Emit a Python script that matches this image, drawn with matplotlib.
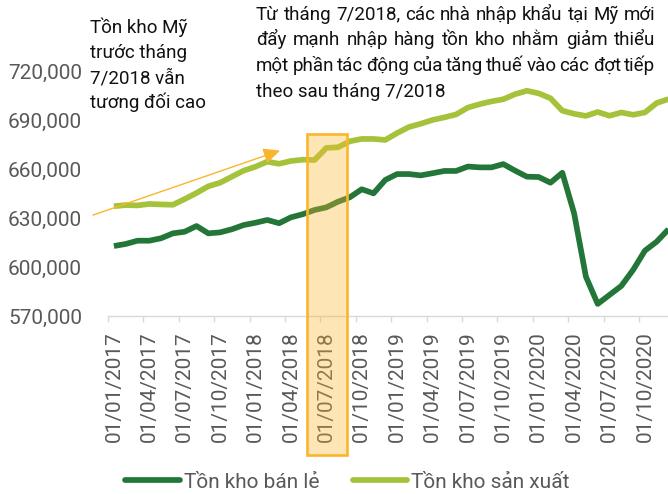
import matplotlib
matplotlib.use("Agg")
import matplotlib.pyplot as plt
from matplotlib.patches import Rectangle, FancyArrowPatch
from matplotlib.lines import Line2D
from matplotlib.ticker import FuncFormatter

# ---------------- data ----------------
tick_labels = ["01/01/2017", "01/04/2017", "01/07/2017", "01/10/2017",
               "01/01/2018", "01/04/2018", "01/07/2018", "01/10/2018",
               "01/01/2019", "01/04/2019", "01/07/2019", "01/10/2019",
               "01/01/2020", "01/04/2020", "01/07/2020", "01/10/2020"]

retail = [612850, 614100, 616100, 616100, 617600, 620600, 621600, 625100,
          620600, 621200, 623100, 625700, 627100, 628800, 626800, 630400,
          632300, 634900, 636500, 640000, 642700, 647600, 645100, 653300,
          656900, 656900, 656100, 657400, 658800, 658800, 661500, 661000,
          661000, 663000, 659000, 655300, 655100, 651600, 657700, 632900,
          594100, 577400, 582900, 588400, 598200, 610000, 615500, 623100]

manufacturing = [637200, 637900, 637700, 638600, 638300, 638100, 641600, 645300,
                 649400, 651600, 655300, 659000, 661400, 664500, 663200, 664900,
                 665700, 665500, 672900, 673300, 677000, 678400, 678400, 677800,
                 682000, 685700, 687700, 690000, 691600, 693400, 697600, 699700,
                 701400, 702700, 705800, 707900, 706300, 703300, 695700, 693800,
                 692500, 694900, 692600, 694600, 693200, 694600, 700400, 702800]

y_ticks = [570000, 600000, 630000, 660000, 690000, 720000]

series_names = ["Tồn kho bán lẻ", "Tồn kho sản xuất"]

left_note = ["Tồn kho Mỹ", "trước tháng", "7/2018 vẫn", "tương đối cao"]
right_note = ["Từ tháng 7/2018, các nhà nhập khẩu tại Mỹ mới",
              "đẩy mạnh nhập hàng tồn kho nhằm giảm thiểu",
              "một phần tác động của tăng thuế vào các đợt tiếp",
              "theo sau tháng 7/2018"]

# ---------------- style ----------------
FONT = ["Roboto", "DejaVu Sans"]
plt.rcParams["font.family"] = FONT
DARK = "#237638"
LIGHT = "#a4c33b"
GRAY = "#595959"
AXIS_GRAY = "#d9d9d9"
ORANGE = "#fbb52c"

W, H = 668, 494
fig = plt.figure(figsize=(W / 100, H / 100), dpi=100)
ax = fig.add_axes([108 / W, (H - 316) / H, (W - 108) / W, (316 - 22) / H])

n = len(retail)
x = [i + 0.5 for i in range(n)]  # each month plotted at the middle of its slot

ax.plot(x, retail, color=DARK, lw=4.1, solid_joinstyle="round",
        solid_capstyle="butt", zorder=3)
ax.plot(x, manufacturing, color=LIGHT, lw=4.1, solid_joinstyle="round",
        solid_capstyle="butt", zorder=3)

ax.set_xlim(0, 560 / 11.8)
ax.set_ylim(570000, 750000)

for s in ["left", "right", "top"]:
    ax.spines[s].set_visible(False)
ax.spines["bottom"].set_color(AXIS_GRAY)
ax.spines["bottom"].set_linewidth(1.0)

# y axis
ax.set_yticks(y_ticks)
ax.yaxis.set_major_formatter(FuncFormatter(lambda v, p: f"{int(v):,}"))
ax.tick_params(axis="y", length=0, pad=18.7, labelsize=15, labelcolor=GRAY)

# x axis: tick marks at quarter boundaries, labels under the month points
major = [3 * i for i in range(len(tick_labels))]
ax.set_xticks(major)
ax.set_xticklabels([""] * len(major))
ax.set_xticks([m + 0.5 for m in major], minor=True)
ax.set_xticklabels(tick_labels, minor=True, rotation=90, fontsize=15,
                   color=GRAY, va="top", ha="center")
ax.tick_params(axis="x", which="major", length=4.3, width=1.0, color=AXIS_GRAY,
               direction="out")
ax.tick_params(axis="x", which="minor", length=0, pad=10.8)

# highlight box around July 2018
box = Rectangle((16.86, 484900), 20.28 - 16.86, 681400 - 484900,
                facecolor=ORANGE, alpha=0.35, edgecolor="none",
                clip_on=False, zorder=6)
ax.add_patch(box)
box_edge = Rectangle((16.86, 484900), 20.28 - 16.86, 681400 - 484900,
                     facecolor="none", edgecolor=ORANGE, lw=1.9,
                     clip_on=False, zorder=7)
ax.add_patch(box_edge)

# arrow
arrow = FancyArrowPatch((-1.27, 631800), (14.58, 671300),
                        arrowstyle="-|>,head_length=10,head_width=4.7",
                        mutation_scale=1, color=ORANGE, lw=1.0,
                        shrinkA=0, shrinkB=0, clip_on=False, zorder=8)
ax.add_patch(arrow)

# ---------------- annotations ----------------
NOTE_FS = 13.5


def fx(px):
    return px / W


def fy(py):
    return 1 - py / H


for i, line in enumerate(left_note):
    fig.text(fx(90), fy(33.3 + 25 * i), line, fontsize=NOTE_FS, color="#111111",
             ha="left", va="baseline", family=FONT)

renderer = fig.canvas.get_renderer()
x0, x1 = 256, 655
for i, line in enumerate(right_note):
    yb = fy(19.5 + 25.7 * i)
    if i == len(right_note) - 1:
        fig.text(fx(x0), yb, line, fontsize=NOTE_FS, color="#111111",
                 ha="left", va="baseline", family=FONT)
        continue
    words = line.split(" ")
    texts = [fig.text(0, yb, w, fontsize=NOTE_FS, color="#111111", ha="left",
                      va="baseline", family=FONT) for w in words]
    widths = [t.get_window_extent(renderer).width for t in texts]
    gap = (x1 - x0 - sum(widths)) / (len(words) - 1)
    cx = x0
    for t, wd in zip(texts, widths):
        t.set_x(fx(cx))
        cx += wd + gap

# ---------------- legend ----------------
handles = [Line2D([], [], color=DARK, lw=4.1, solid_capstyle="round"),
           Line2D([], [], color=LIGHT, lw=4.1, solid_capstyle="round")]
leg = fig.legend(handles, series_names, loc="center", ncol=2,
                 bbox_to_anchor=(fx(347.5), fy(482)), frameon=False,
                 fontsize=15, handlelength=2.6, handletextpad=0.2,
                 columnspacing=1.6, borderpad=0, borderaxespad=0)
for t in leg.get_texts():
    t.set_color(GRAY)

fig.savefig("out.png", dpi=100)
